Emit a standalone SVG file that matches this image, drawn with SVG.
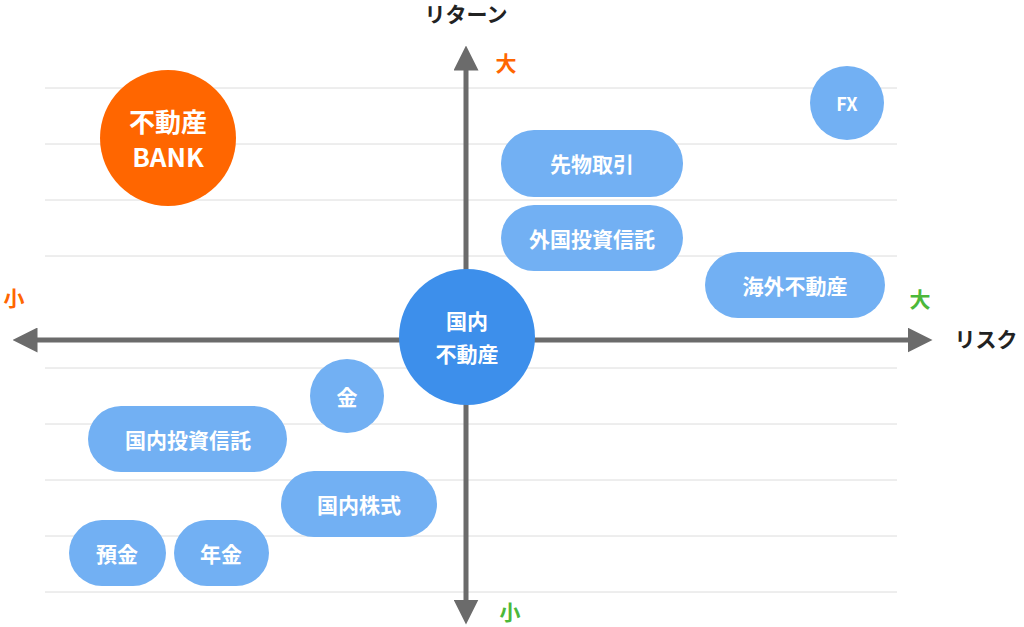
<svg xmlns="http://www.w3.org/2000/svg" width="1024" height="627" viewBox="0 0 1024 627">
<style>
.g{stroke:#dcdcdc;stroke-width:1}
.ax{stroke:#6b6b6b;stroke-width:5}
.p{fill:#72b0f3}
.t{font-family:"Noto Sans CJK JP","Noto Sans",sans-serif;font-weight:bold;fill:#fff;text-anchor:middle;dominant-baseline:central}
.l{font-family:"Noto Sans CJK JP","Noto Sans",sans-serif;font-weight:bold;text-anchor:middle;dominant-baseline:central;font-size:21px}
</style>
<defs><marker id="ah" viewBox="0 0 10 10" refX="5" refY="5" markerWidth="5" markerHeight="5" orient="auto"><path d="M0,0L10,5L0,10z" fill="#6b6b6b"/></marker></defs>
<g id="grid">
<line class="g" x1="45" y1="88" x2="897" y2="88"/><line class="g" x1="45" y1="144" x2="897" y2="144"/><line class="g" x1="45" y1="200" x2="897" y2="200"/><line class="g" x1="45" y1="256" x2="897" y2="256"/><line class="g" x1="45" y1="368" x2="897" y2="368"/><line class="g" x1="45" y1="424" x2="897" y2="424"/><line class="g" x1="45" y1="480" x2="897" y2="480"/><line class="g" x1="45" y1="536" x2="897" y2="536"/><line class="g" x1="45" y1="592" x2="897" y2="592"/>
</g>
<g id="connectors">
<line class="ax" x1="466" y1="340" x2="466" y2="58" marker-end="url(#ah)"/>
<line class="ax" x1="466" y1="340" x2="466" y2="612" marker-end="url(#ah)"/>
<line class="ax" x1="466" y1="340" x2="25" y2="340" marker-end="url(#ah)"/>
<line class="ax" x1="466" y1="340" x2="920" y2="340" marker-end="url(#ah)"/>
</g>
<g id="labels">
<text class="l" x="466" y="13" fill="#222">リターン</text>
<text class="l" x="506" y="62" fill="#ff6600">大</text>
<text class="l" x="14" y="297" fill="#ff6600">小</text>
<text class="l" x="920" y="298" fill="#4cb83a">大</text>
<text class="l" x="986" y="338" fill="#222">リスク</text>
<text class="l" x="510" y="611" fill="#4cb83a">小</text>
</g>
<g id="bank"><circle cx="168" cy="138" r="68" fill="#ff6600"/><text class="t" x="168" y="120" font-size="26">不動産</text><text class="t" x="168" y="155" font-size="26">BANK</text></g>
<g id="fx"><circle cx="847" cy="103" r="37" class="p"/><text class="t" x="847" y="103" font-size="18">FX</text></g>
<g id="sakimono"><rect class="p" x="501" y="130" width="182" height="67" rx="33"/><text class="t" x="592" y="163" font-size="21">先物取引</text></g>
<g id="gaikoku"><rect class="p" x="501" y="205" width="182" height="66" rx="33"/><text class="t" x="592" y="238" font-size="21">外国投資信託</text></g>
<g id="kaigai"><rect class="p" x="705" y="252" width="180" height="66" rx="33"/><text class="t" x="795" y="285" font-size="21">海外不動産</text></g>
<g id="kokunai"><circle cx="467" cy="337" r="68" fill="#3d8feb"/><text class="t" x="467" y="320" font-size="21">国内</text><text class="t" x="467" y="353" font-size="21">不動産</text></g>
<g id="kin"><circle cx="347" cy="396" r="37" class="p"/><text class="t" x="347" y="396" font-size="21">金</text></g>
<g id="toushin"><rect class="p" x="88" y="406" width="199" height="66" rx="33"/><text class="t" x="188" y="439" font-size="21">国内投資信託</text></g>
<g id="kabu"><rect class="p" x="281" y="471" width="156" height="66" rx="33"/><text class="t" x="359" y="504" font-size="21">国内株式</text></g>
<g id="yokin"><rect class="p" x="69" y="520" width="97" height="66" rx="33"/><text class="t" x="117" y="553" font-size="21">預金</text></g>
<g id="nenkin"><rect class="p" x="174" y="520" width="95" height="66" rx="33"/><text class="t" x="221" y="553" font-size="21">年金</text></g>
</svg>
